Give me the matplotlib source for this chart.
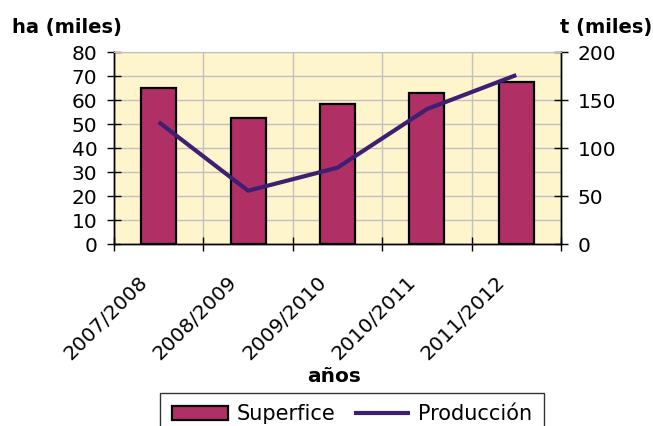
import numpy as np
import matplotlib
matplotlib.use("Agg")
import matplotlib.pyplot as plt
from matplotlib.transforms import ScaledTranslation

# data
campanas = ['2007/2008', '2008/2009', '2009/2010', '2010/2011', '2011/2012']
superficie = [65, 52.5, 58.5, 63, 67.5]        # ha (miles), left axis
produccion = [127, 55.5, 79.5, 140.5, 176]     # t (miles), right axis

bar_color = '#B03066'
line_color = '#3F1F72'
bg_color = '#FFF5CC'
grid_color = '#C0C0C0'

plt.rcParams['font.family'] = 'DejaVu Sans'
fig = plt.figure(figsize=(6.53, 4.26), dpi=100)
ax = fig.add_axes([114/653, 1-244/426, (561-114)/653, (244-52)/426])
ax.set_facecolor(bg_color)
ax.set_axisbelow(True)

x = np.arange(len(campanas))
ax.bar(x, superficie, width=0.39, color=bar_color, edgecolor='black',
       linewidth=1.6, label='Superfice', zorder=3)
ax.set_xlim(-0.5, len(campanas)-0.5)
ax.set_ylim(0, 80)
ax.set_yticks(range(0, 81, 10))
ax.set_xticks(np.arange(-0.5, len(campanas), 1))
ax.set_xticklabels([])
ax.grid(True, color=grid_color, linewidth=1)
ax.tick_params(axis='both', direction='inout', length=9.4, width=1,
               labelsize=14.5, pad=7.3)

ax2 = ax.twinx()
ax2.plot(x, produccion, color=line_color, linewidth=3, label='Producción',
         solid_capstyle='butt', zorder=4)
ax2.set_ylim(0, 200)
ax2.set_yticks(range(0, 201, 50))
ax2.tick_params(axis='y', direction='inout', length=9.4, width=1,
                labelsize=14.5, pad=7.3)

for a in (ax, ax2):
    a.spines['top'].set_color(grid_color)
    for s in ('left', 'right', 'bottom'):
        a.spines[s].set_color('black')
        a.spines[s].set_linewidth(1)

# rotated category labels
off = ScaledTranslation(-14/100, -35/100, fig.dpi_scale_trans)
for xi, lab in zip(x, campanas):
    ax.text(xi, 0, lab, transform=ax.get_xaxis_transform() + off,
            rotation=45, rotation_mode='anchor', ha='right', va='center',
            fontsize=14.5)

fig.text(12/653, 1-27/426, 'ha (miles)', fontsize=14, fontweight='bold',
         ha='left', va='center')
fig.text(606/653, 1-27/426, 't (miles)', fontsize=14, fontweight='bold',
         ha='center', va='center')
fig.text(334/653, 1-376/426, 'años', fontsize=14.5, fontweight='bold',
         ha='center', va='center')

h1, l1 = ax.get_legend_handles_labels()
h2, l2 = ax2.get_legend_handles_labels()
leg = fig.legend(h1+h2, l1+l2, loc='upper center',
                 bbox_to_anchor=(352/653, 1-393/426), ncol=2, fontsize=15,
                 frameon=True, fancybox=False, handlelength=2.7,
                 handleheight=0.65, handletextpad=0.4, columnspacing=0.9,
                 borderpad=0.55, borderaxespad=0)
leg.get_frame().set_edgecolor('black')
leg.get_frame().set_linewidth(1)

fig.savefig('out.png', dpi=100)
